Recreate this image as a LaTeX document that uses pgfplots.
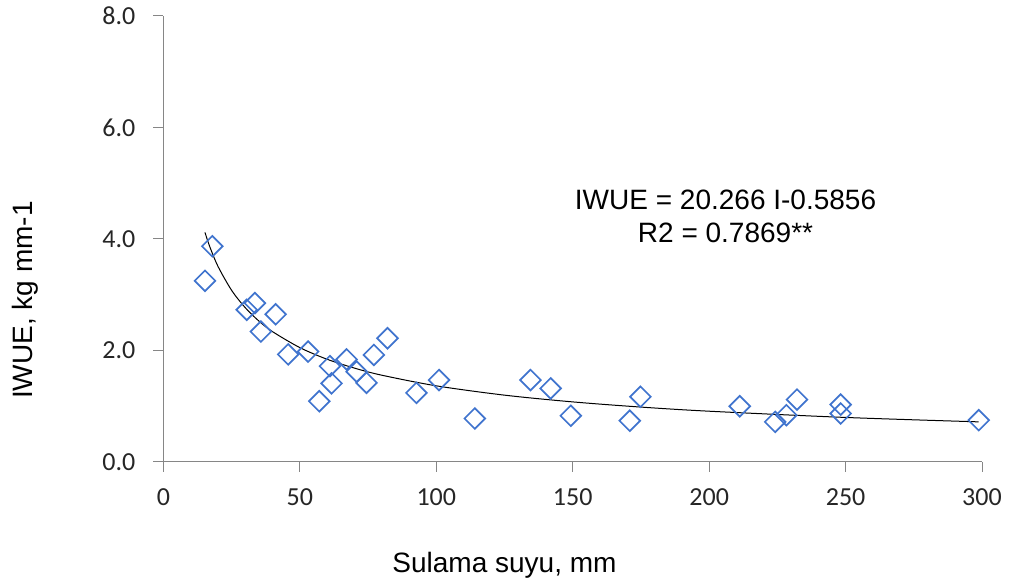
\documentclass[border=0pt]{standalone}
\usepackage{fontspec}
\setmainfont{Liberation Sans}
\newfontfamily\carlito{Carlito}
\usepackage{pgfplots}
\pgfplotsset{compat=1.18}
\definecolor{mblue}{RGB}{64,116,206}
\definecolor{axgray}{RGB}{134,134,134}
\begin{document}
\begin{tikzpicture}
\useasboundingbox (-163.5pt,-121pt) rectangle (846.5pt,462pt);
\begin{axis}[
  at={(0,0)}, anchor=south west,
  width=818.5pt, height=446pt, scale only axis,
  xmin=0, xmax=300, ymin=0, ymax=8,
  axis lines*=left,
  axis line style={axgray, line width=1pt},
  xtick={0,50,...,300}, ytick={0,2,...,8},
  tick align=outside, major tick length=10pt,
  tick style={axgray, line width=1pt},
  /pgf/number format/assume math mode=true,
  ticklabel style={font=\carlito\fontsize{26}{26}\selectfont, text=black!85},
  yticklabel style={/pgf/number format/fixed, /pgf/number format/precision=1, /pgf/number format/fixed zerofill, inner sep=0pt, xshift=-18pt},
  xticklabel style={inner sep=0pt, yshift=-16pt},
  xlabel={Sulama suyu, mm},
  ylabel={IWUE, kg mm-1},
  label style={font=\fontsize{28}{28}\selectfont},
  xlabel style={at={(axis description cs:0.4166,-0.248)}, anchor=base},
  ylabel style={at={(axis description cs:-0.169,0.363)}, anchor=center},
  clip=false,
]
\addplot[only marks, mark=square, mark size=7.3pt, mark options={rotate=45, draw=mblue, line width=1.7pt, fill=none}] coordinates {
(15.2,3.25) (17.9,3.87) (30.5,2.73) (33.5,2.85) (35.7,2.34) (41.1,2.65)
(45.7,1.93) (53.0,1.98) (57.1,1.09) (61.0,1.72) (61.6,1.41) (67.1,1.84)
(70.8,1.62) (74.4,1.42) (77.1,1.92) (82.1,2.22) (92.7,1.24) (101.0,1.47)
(114.1,0.78) (134.5,1.47) (141.9,1.32) (149.3,0.83) (170.9,0.74) (174.8,1.17)
(211.2,1.00) (224.2,0.72) (228.3,0.84) (232.2,1.12) (248.2,1.03) (248.2,0.87)
(298.8,0.75)
};
\addplot[black, line width=1pt, smooth, no marks] coordinates {
(15.2,4.118) (17,3.857) (20,3.506) (25,3.077) (30,2.766) (35,2.527) (40,2.337)
(50,2.051) (60,1.842) (70,1.684) (80,1.557) (100,1.366) (125,1.199) (150,1.078)
(175,0.985) (200,0.911) (250,0.799) (298.8,0.720)
};
\node[align=center, font=\fontsize{28}{33}\selectfont] at (axis cs:206.0,4.40) {IWUE = 20.266 I-0.5856\\R2 = 0.7869**};
\end{axis}
\end{tikzpicture}
\end{document}
